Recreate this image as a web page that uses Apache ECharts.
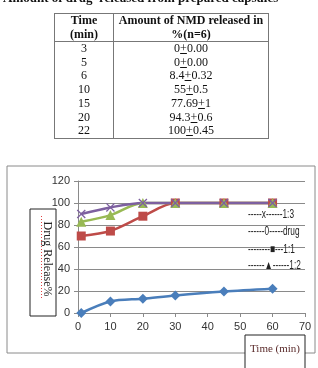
<!DOCTYPE html>
<html lang="en">
<head>
    <meta charset="UTF-8">
    <title>Drug release</title>
    <script src="https://cdn.jsdelivr.net/npm/echarts@6/dist/echarts.min.js"></script>
    <style>
        body { margin: 0; background: #fff; }
        #wrap { position: relative; width: 318px; height: 368px; overflow: hidden; }
        #chart { position: absolute; left: 0; top: 0; width: 318px; height: 368px; }
        #caption { position: absolute; left: 3px; top: -10px; font: bold 13px "Liberation Serif", serif; color: #111; white-space: pre; }
        table { position: absolute; left: 54px; top: 13px; width: 215px; border-collapse: collapse;
                font: 12px "Liberation Serif", serif; color: #111; }
        th, td { border-left: 1px solid #777; border-right: 1px solid #777; text-align: center; padding: 0; line-height: 13.7px; }
        th { border: 1px solid #777; font-weight: bold; line-height: 13.5px; }
        tr:last-child td { border-bottom: 1px solid #777; }
    </style>
</head>
<body>
<div id="wrap">
    <div id="chart"></div>
    <div id="caption">Amount of drug  released from prepared capsules</div>
    <table id="tbl">
        <tr><th style="width:58px">Time<br>(min)</th><th>Amount of NMD released in<br>%(n=6)</th></tr>
    </table>
</div>
<script>
    var tableTime = ['3', '5', '6', '10', '15', '20', '22'];
    var tableAmount = ['0<u>+</u>0.00', '0<u>+</u>0.00', '8.4<u>+</u>0.32', '55<u>+</u>0.5', '77.69<u>+</u>1', '94.3<u>+</u>0.6', '100<u>+</u>0.45'];

    var times = [1, 10, 20, 30, 45, 60];
    var drug = [0, 10.5, 13, 16, 19.5, 22];
    var r11 = [70, 74.5, 88, 100, 100, 100];
    var r12 = [83, 89, 100, 100, 100, 100];
    var r13 = [90, 96, 100, 100, 100, 100];
    var xTicks = [0, 10, 20, 30, 40, 50, 60, 70];
    var yTicks = [0, 20, 40, 60, 80, 100, 120];

    var tbl = document.getElementById('tbl');
    for (var i = 0; i < tableTime.length; i++) {
        var tr = document.createElement('tr');
        tr.innerHTML = '<td>' + tableTime[i] + '</td><td>' + tableAmount[i] + '</td>';
        tbl.appendChild(tr);
    }

    function pairs(ys) {
        return times.map(function (t, k) { return [t, ys[k]]; });
    }

    var crossSymbol = 'path://M0,1L1,0L5,4L9,0L10,1L6,5L10,9L9,10L5,6L1,10L0,9L4,5Z';

    var serieData = [
        { name: 'drug', color: '#4a7ebb', symbol: 'diamond', size: 10, data: pairs(drug) },
        { name: '1:1', color: '#be4b48', symbol: 'rect', size: 9, data: pairs(r11) },
        { name: '1:2', color: '#98b954', symbol: 'triangle', size: 10, data: pairs(r12) },
        { name: '1:3', color: '#7d60a0', symbol: crossSymbol, size: 9, data: pairs(r13) }
    ].map(function (s) {
        return {
            name: s.name,
            type: 'line',
            smooth: 0.3,
            symbol: s.symbol,
            symbolSize: s.size,
            showAllSymbol: true,
            lineStyle: { color: s.color, width: 2.5 },
            itemStyle: { color: s.color },
            data: s.data,
            z: 3
        };
    });

    var legendFont = '12px "Liberation Sans", sans-serif';
    var legendRows = [
        ['-----x------1:3', 215],
        ['------0-----drug', 232],
        ['--------\u25A0---1:1', 250],
        ['------\u25B2------1:2', 266]
    ];

    var graphics = [
        { type: 'rect', shape: { x: 7, y: 166, width: 308, height: 187 }, style: { fill: '#fff', stroke: '#8a8a8a', lineWidth: 1 }, z: -10 },
        { type: 'rect', shape: { x: 30, y: 209, width: 26, height: 107 }, style: { fill: '#fff', stroke: '#222', lineWidth: 1 }, z: 10 },
        { type: 'text', x: 47, y: 259, rotation: -Math.PI / 2,
          style: { text: 'Drug Release%', font: '12px "Liberation Serif", serif', fill: '#222', align: 'center', verticalAlign: 'middle' }, z: 11 },
        { type: 'line', shape: { x1: 41.5, y1: 216, x2: 41.5, y2: 300 }, style: { stroke: '#e04040', lineWidth: 1, lineDash: [1, 2] }, z: 11 },
        { type: 'rect', shape: { x: 245, y: 335, width: 60, height: 40 }, style: { fill: '#fff', stroke: '#222', lineWidth: 1 }, z: 10 },
        { type: 'text', x: 275, y: 349,
          style: { text: 'Time (min)', font: '11px "Liberation Serif", serif', fill: '#5a2a2a', align: 'center', verticalAlign: 'middle' }, z: 11 }
    ];
    legendRows.forEach(function (r) {
        graphics.push({ type: 'text', x: 248, y: r[1], scaleX: 0.69,
            style: { text: r[0], font: legendFont, fill: '#222', verticalAlign: 'middle' }, z: 11 });
    });

    var option = {
        animation: false,
        grid: { left: 78, right: 13, top: 181, bottom: 55 },
        xAxis: {
            type: 'value', min: 0, max: 70, interval: 10,
            axisLine: { lineStyle: { color: '#8a8a8a' } },
            axisTick: { show: true, length: 4, lineStyle: { color: '#8a8a8a' } },
            axisLabel: { color: '#333', fontSize: 11, fontFamily: '"Liberation Sans", sans-serif', margin: 8,
                formatter: function (v) { return xTicks.indexOf(v) >= 0 ? String(v) : ''; } },
            splitLine: { show: false }
        },
        yAxis: {
            type: 'value', min: 0, max: 120, interval: 20,
            axisLine: { show: true, lineStyle: { color: '#8a8a8a' } },
            axisTick: { show: true, length: 4, lineStyle: { color: '#8a8a8a' } },
            axisLabel: { color: '#333', fontSize: 11, fontFamily: '"Liberation Sans", sans-serif', margin: 8,
                formatter: function (v) { return yTicks.indexOf(v) >= 0 ? String(v) : ''; } },
            splitLine: { lineStyle: { color: '#8a8a8a' } }
        },
        graphic: graphics,
        series: serieData
    };

    var myChart = echarts.init(document.getElementById('chart'));
    myChart.setOption(option);
</script>
</body>
</html>
